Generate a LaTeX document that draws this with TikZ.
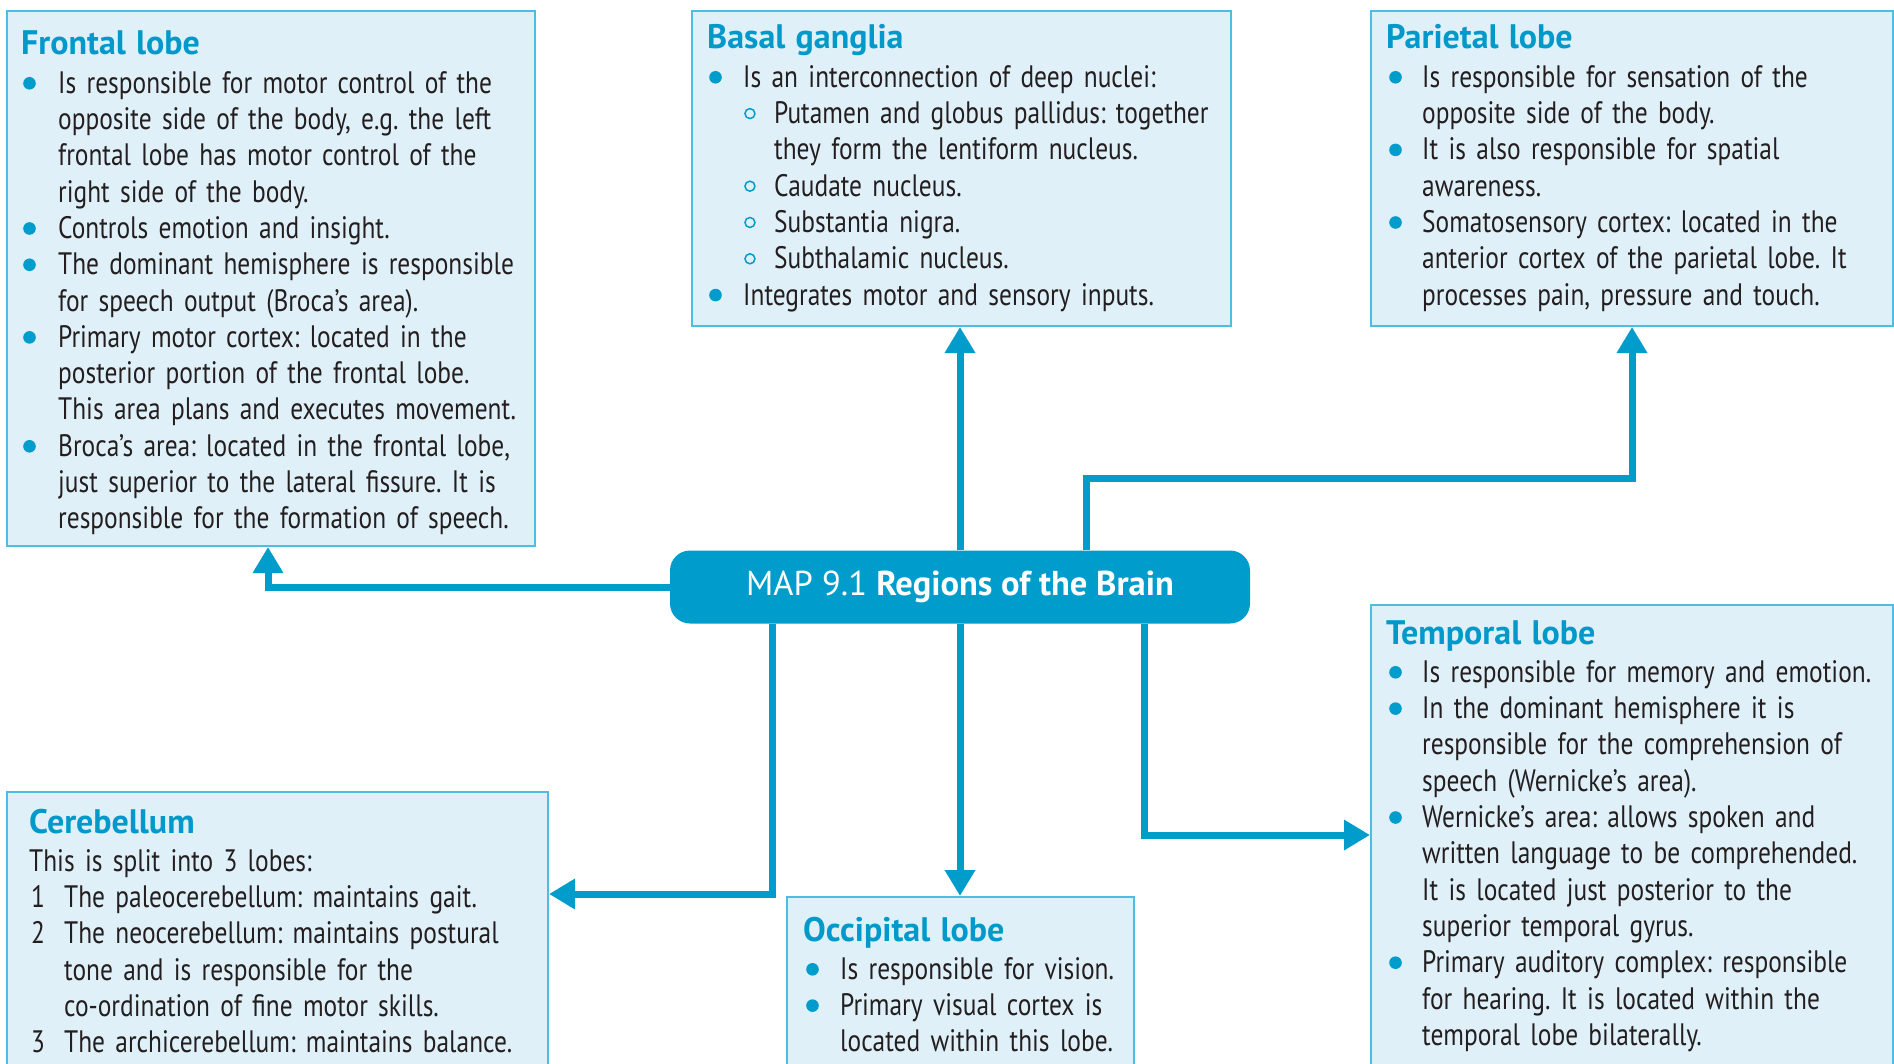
\documentclass[tikz,border=0pt]{standalone}
\usepackage{fontspec}
\setmainfont{PT Sans}[FakeStretch=0.82]
\newfontfamily\hdfont{PT Sans}
\usetikzlibrary{arrows.meta}
\definecolor{cy}{RGB}{0,157,204}
\definecolor{hd}{RGB}{0,153,202}
\definecolor{bfill}{RGB}{224,240,248}
\definecolor{bline}{RGB}{77,190,226}
\definecolor{txt}{RGB}{35,31,32}
\newcommand\brk{\hfil\break}
\newcommand\bdot{\tikz[baseline={(0pt,-10pt)}]\fill[cy] (0pt,0pt) circle[radius=6.3pt];}
\newcommand\bcirc{\tikz[baseline={(0pt,-10pt)}]\draw[cy,line width=1.5pt] (0pt,0pt) circle[radius=5pt];}
\newcommand\itm[3]{\par\hangindent=#1pt\hangafter=1\noindent\makebox[#1pt][l]{\hspace*{#2pt}\bdot}#3}
\newcommand\sitm[3]{\par\hangindent=#1pt\hangafter=1\noindent\makebox[#1pt][l]{\hspace*{#2pt}\bcirc}#3}
\newcommand\nitm[3]{\par\hangindent=#1pt\hangafter=1\noindent\makebox[#1pt][l]{\hspace*{#2pt}#3}}
\newcommand\hdg[1]{{\hdfont\fontsize{34}{36}\selectfont\bfseries\color{hd}#1\par}\vspace{2pt}}
\tikzset{
  box/.style={draw=bline, line width=2pt, fill=bfill, rectangle, inner sep=0pt, anchor=north west},
  boxtext/.style={anchor=base west, inner sep=0pt, align=left, text=txt, font=\fontsize{31}{36.3}\selectfont\frenchspacing},
  conn/.style={draw=cy, line width=7pt, -{Triangle[length=26pt,width=29pt]}},
  hub/.style={fill=cy, rounded corners=20pt, minimum width=580pt, minimum height=73pt, inner sep=0pt, text=white, font=\hdfont\fontsize{34.5}{40}\selectfont}
}
\begin{document}
\begin{tikzpicture}[x=1pt,y=-1pt]
\useasboundingbox (0,0) rectangle (1894,1064);
\fill[white] (0,0) rectangle (1894,1064);
% boxes
\node[box, minimum width=528pt, minimum height=535pt] (frontal) at (6,10) {};
\node[box, minimum width=539pt, minimum height=315pt] (basal) at (691,10) {};
\node[box, minimum width=522pt, minimum height=315pt] (parietal) at (1370,10) {};
\node[box, minimum width=522pt, minimum height=520pt] (temporal) at (1370,604) {};
\node[box, minimum width=541pt, minimum height=320pt] (cereb) at (6,791) {};
\node[box, minimum width=347pt, minimum height=220pt] (occip) at (786,896) {};
% texts
\node[boxtext, text width=512pt] (frontaltxt) at (21,55) {\hdg{Frontal lobe}%
\itm{37}{2}{Is responsible for motor control of the\brk opposite side of the body, e.g. the left\brk frontal lobe has motor control of the\brk right side of the body.}%
\itm{37}{2}{Controls emotion and insight.}%
\itm{37}{2}{The dominant hemisphere is responsible\brk for speech output (Broca’s area).}%
\itm{37}{2}{Primary motor cortex: located in the\brk posterior portion of the frontal lobe.\brk This area plans and executes movement.}%
\itm{37}{2}{Broca’s area: located in the frontal lobe,\brk just superior to the lateral fissure. It is\brk responsible for the formation of speech.}\par};
\node[boxtext, text width=522pt] (basaltxt) at (707,49) {\hdg{Basal ganglia}%
\itm{36}{2}{Is an interconnection of deep nuclei:}%
\sitm{67}{37}{Putamen and globus pallidus: together\brk they form the lentiform nucleus.}%
\sitm{67}{37}{Caudate nucleus.}%
\sitm{67}{37}{Substantia nigra.}%
\sitm{67}{37}{Subthalamic nucleus.}%
\itm{36}{2}{Integrates motor and sensory inputs.}\par};
\node[boxtext, text width=505pt] (parietaltxt) at (1386,49) {\hdg{Parietal lobe}%
\itm{36}{3}{Is responsible for sensation of the\brk opposite side of the body.}%
\itm{36}{3}{It is also responsible for spatial\brk awareness.}%
\itm{36}{3}{Somatosensory cortex: located in the\brk anterior cortex of the parietal lobe. It\brk processes pain, pressure and touch.}\par};
\node[boxtext, text width=505pt] (temporaltxt) at (1386,644) {\hdg{Temporal lobe}%
\itm{36}{3}{Is responsible for memory and emotion.}%
\itm{36}{3}{In the dominant hemisphere it is\brk responsible for the comprehension of\brk speech (Wernicke’s area).}%
\itm{36}{3}{Wernicke’s area: allows spoken and\brk written language to be comprehended.\brk It is located just posterior to the\brk superior temporal gyrus.}%
\itm{36}{3}{Primary auditory complex: responsible\brk for hearing. It is located within the\brk temporal lobe bilaterally.}\par};
\node[boxtext, text width=515pt] (cerebtxt) at (29,833) {\hdg{Cerebellum}%
This is split into 3 lobes:%
\nitm{35}{2}{1}The paleocerebellum: maintains gait.%
\nitm{35}{2}{2}The neocerebellum: maintains postural\brk tone and is responsible for the\brk co-ordination of fine motor skills.%
\nitm{35}{2}{3}The archicerebellum: maintains balance.\par};
\node[boxtext, text width=335pt] (occiptxt) at (803,941) {\hdg{Occipital lobe}%
\itm{37}{3}{Is responsible for vision.}%
\itm{37}{3}{Primary visual cortex is\brk located within this lobe.}\par};
% hub
\node[hub] (hub) at (960,587) {MAP 9.1 \textbf{Regions of the Brain}};
% connectors
\draw[conn] (hub.west) -| ([xshift=262pt]frontal.south west);
\draw[conn] (hub.north) -- (hub.north |- basal.south);
\draw[conn] ([xshift=417pt]hub.north west) -- ++(0,-72) -| (parietal.south);
\draw[conn] ([xshift=103pt]hub.south west) |- ([yshift=-103pt]cereb.north east);
\draw[conn] (hub.south) -- (hub.south |- occip.north);
\draw[conn] ([xshift=475pt]hub.south west) |- ([yshift=-231pt]temporal.north west);
\end{tikzpicture}
\end{document}
